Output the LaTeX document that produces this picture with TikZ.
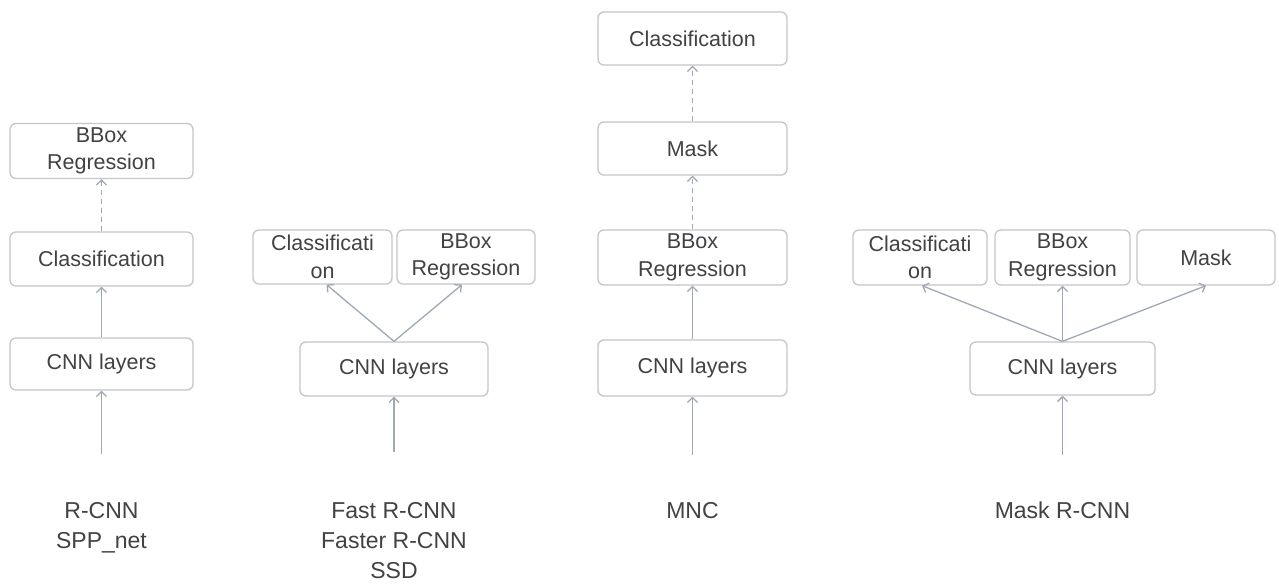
\documentclass[tikz,border=0pt]{standalone}
\usepackage{fontspec}
\setmainfont{Liberation Sans}
\usetikzlibrary{arrows.meta}
\definecolor{boxc}{RGB}{198,198,204}
\definecolor{txt}{RGB}{66,66,68}
\definecolor{arr}{RGB}{160,168,182}
\tikzset{
  box/.style 2 args={draw=boxc, line width=1.3pt, rounded corners=6pt, text=txt,
    font=\fontsize{21.5}{27.5}\selectfont, align=center, inner sep=0pt,
    minimum width=#1, minimum height=#2},
  conn/.style={draw=arr, line width=1.3pt, -{Straight Barb[length=5pt,width=10pt]}},
  dconn/.style={conn, dash pattern=on 5pt off 4pt},
  lab/.style={text=txt, font=\fontsize{23}{30}\selectfont, align=center, anchor=north, inner sep=0pt}
}
\begin{document}
\begin{tikzpicture}[x=1pt,y=-1pt]
\useasboundingbox (0,0) rectangle (1279,585);
\fill[white] (0,0) rectangle (1279,585);
% ---- column 1: R-CNN
\node[box={183pt}{55pt}] (a1) at (101.5,151) {BBox\\Regression};
\node[box={183pt}{54pt}] (a2) at (101.5,259) {Classification};
\node[box={183pt}{52pt}] (a3) at (101.5,364) {CNN layers};
\coordinate (a0) at (101.5,454);
\draw[dconn] (a2.north) -- (a1.south);
\draw[conn] (a3.north) -- (a2.south);
\draw[conn] (a0) -- (a3.south);
\node[lab] (la) at (101.5,502) {R-CNN\\SPP\_net};
% ---- column 2: Fast R-CNN
\node[box={139pt}{54pt}] (b1) at (322.5,257) {Classificati\\on};
\node[box={138pt}{54pt}] (b2) at (466,257) {BBox\\Regression};
\node[box={188pt}{54pt}] (b3) at (394,369) {CNN layers};
\coordinate (b0) at (394,452);
\draw[conn] (b3.north) -- ([xshift=4pt]b1.south);
\draw[conn] (b3.north) -- ([xshift=-4pt]b2.south);
\draw[conn] (b0) -- (b3.south);
\node[lab] (lb) at (394,502) {Fast R-CNN\\Faster R-CNN\\SSD};
% ---- column 3: MNC
\node[box={189pt}{53pt}] (c1) at (692.5,38.5) {Classification};
\node[box={189pt}{53pt}] (c2) at (692.5,148.5) {Mask};
\node[box={189pt}{55pt}] (c3) at (692.5,257.5) {BBox\\Regression};
\node[box={189pt}{56pt}] (c4) at (692.5,368) {CNN layers};
\coordinate (c0) at (692.5,455);
\draw[dconn] (c2.north) -- (c1.south);
\draw[dconn] (c3.north) -- (c2.south);
\draw[conn] (c4.north) -- (c3.south);
\draw[conn] (c0) -- (c4.south);
\node[lab] (lc) at (692.5,502) {MNC};
% ---- column 4: Mask R-CNN
\node[box={134pt}{55pt}] (d1) at (920,257.5) {Classificati\\on};
\node[box={135pt}{55pt}] (d2) at (1062.5,257.5) {BBox\\Regression};
\node[box={138pt}{55pt}] (d3) at (1206,257.5) {Mask};
\node[box={185pt}{53pt}] (d4) at (1062.5,368.5) {CNN layers};
\coordinate (d0) at (1062.5,455);
\draw[conn] (d4.north) -- ([xshift=2pt]d1.south);
\draw[conn] (d4.north) -- (d2.south);
\draw[conn] (d4.north) -- (d3.south);
\draw[conn] (d0) -- (d4.south);
\node[lab] (ld) at (1062.5,502) {Mask R-CNN};
\end{tikzpicture}
\end{document}
